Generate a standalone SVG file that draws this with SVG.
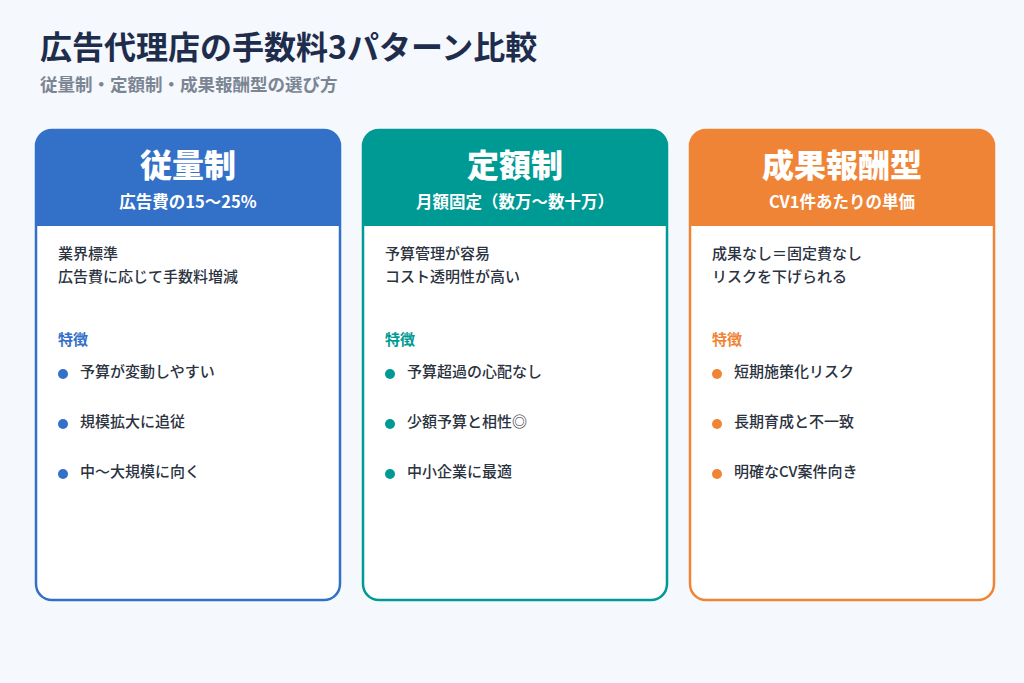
<svg xmlns="http://www.w3.org/2000/svg" width="1024" height="683" viewBox="0 0 1024 683">
<style>
text{font-family:"Noto Sans CJK JP","Noto Sans",sans-serif}
.t{font-size:32px;font-weight:700;fill:#1f2d4d}
.s{font-size:17.5px;font-weight:700;fill:#7b8593}
.h{font-size:32px;font-weight:900;fill:#fff}
.hs{font-size:16.5px;font-weight:700;fill:#fff}
.b{font-size:15px;font-weight:500;fill:#2b3240}
.f{font-size:15px;font-weight:700}
</style>
<rect width="1024" height="683" fill="#f5f8fc"/>
<text x="40" y="59" class="t">広告代理店の手数料3パターン比較</text>
<text x="40" y="91" class="s">従量制・定額制・成果報酬型の選び方</text>
<g id="card1">
<rect x="36" y="130" width="304" height="470" rx="16" fill="#fff" stroke="#3370c8" stroke-width="2.5"/>
<path d="M36 226V146a16 16 0 0 1 16-16h272a16 16 0 0 1 16 16v80z" fill="#3370c8"/>
<text x="188" y="177" text-anchor="middle" class="h">従量制</text>
<text x="188" y="208" text-anchor="middle" class="hs">広告費の15〜25%</text>
<text x="58" y="259" class="b">業界標準</text>
<text x="58" y="282" class="b">広告費に応じて手数料増減</text>
<text x="58" y="345" class="f" fill="#3370c8">特徴</text>
<circle cx="63" cy="374" r="5" fill="#3370c8"/><text x="80" y="377" class="b">予算が変動しやすい</text>
<circle cx="63" cy="424" r="5" fill="#3370c8"/><text x="80" y="427" class="b">規模拡大に追従</text>
<circle cx="63" cy="474" r="5" fill="#3370c8"/><text x="80" y="477" class="b">中〜大規模に向く</text>
</g>
<g id="card2">
<rect x="363" y="130" width="304" height="470" rx="16" fill="#fff" stroke="#009a94" stroke-width="2.5"/>
<path d="M363 226V146a16 16 0 0 1 16-16h272a16 16 0 0 1 16 16v80z" fill="#009a94"/>
<text x="515" y="177" text-anchor="middle" class="h">定額制</text>
<text x="515" y="208" text-anchor="middle" class="hs">月額固定（数万〜数十万）</text>
<text x="385" y="259" class="b">予算管理が容易</text>
<text x="385" y="282" class="b">コスト透明性が高い</text>
<text x="385" y="345" class="f" fill="#009a94">特徴</text>
<circle cx="390" cy="374" r="5" fill="#009a94"/><text x="407" y="377" class="b">予算超過の心配なし</text>
<circle cx="390" cy="424" r="5" fill="#009a94"/><text x="407" y="427" class="b">少額予算と相性◎</text>
<circle cx="390" cy="474" r="5" fill="#009a94"/><text x="407" y="477" class="b">中小企業に最適</text>
</g>
<g id="card3">
<rect x="690" y="130" width="304" height="470" rx="16" fill="#fff" stroke="#f08436" stroke-width="2.5"/>
<path d="M690 226V146a16 16 0 0 1 16-16h272a16 16 0 0 1 16 16v80z" fill="#f08436"/>
<text x="842" y="177" text-anchor="middle" class="h">成果報酬型</text>
<text x="842" y="208" text-anchor="middle" class="hs">CV1件あたりの単価</text>
<text x="712" y="259" class="b">成果なし＝固定費なし</text>
<text x="712" y="282" class="b">リスクを下げられる</text>
<text x="712" y="345" class="f" fill="#f08436">特徴</text>
<circle cx="717" cy="374" r="5" fill="#f08436"/><text x="734" y="377" class="b">短期施策化リスク</text>
<circle cx="717" cy="424" r="5" fill="#f08436"/><text x="734" y="427" class="b">長期育成と不一致</text>
<circle cx="717" cy="474" r="5" fill="#f08436"/><text x="734" y="477" class="b">明確なCV案件向き</text>
</g>
<g id="connectors"/>
</svg>
